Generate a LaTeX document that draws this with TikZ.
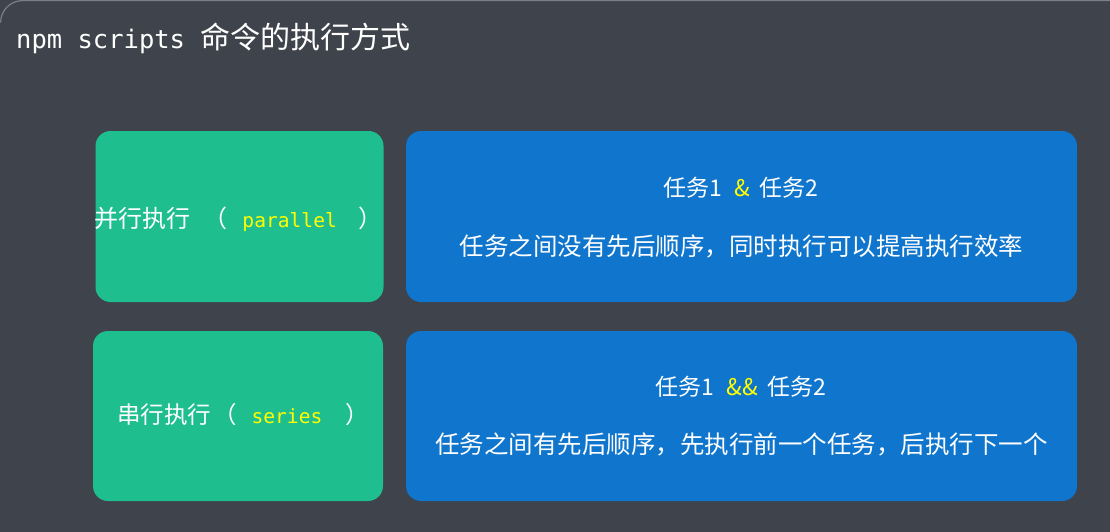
\documentclass[tikz,border=0pt]{standalone}
\usepackage{fontspec}
\usepackage{xcolor}
\usepackage{tikz}
\setmainfont{Noto Sans CJK SC}
\setmonofont{DejaVu Sans Mono}

\definecolor{bgdark}{HTML}{3F434B}
\definecolor{edgegray}{HTML}{7C7F85}
\definecolor{modegreen}{HTML}{1FBE8F}
\definecolor{taskblue}{HTML}{1076CD}
\definecolor{kwyellow}{HTML}{FFFF00}

\newcommand{\kw}[2]{{\fontsize{#1}{#1}\ttfamily\selectfont\color{kwyellow}#2}}

\begin{document}
\begin{tikzpicture}[x=1pt,y=-1pt,
  modebox/.style={fill=modegreen, rounded corners=15pt, minimum width=288pt, minimum height=171pt, inner sep=0pt},
  taskbox/.style={fill=taskblue, rounded corners=15pt, minimum width=671pt, minimum height=171pt, inner sep=0pt},
  txt/.style={text=white, inner sep=0pt}]
% Background
\useasboundingbox (0,0) rectangle (1110,532);
\fill[bgdark] (0,0) rectangle (1110,532);
\draw[edgegray, line width=1.2pt, rounded corners=22pt] (0.6,22) -- (0.6,0.6) -- (1110,0.6);

% Title
\node[txt, anchor=west] (title) at (16,38) {{\fontsize{25.5}{30}\ttfamily\selectfont npm scripts }{\fontsize{30}{34}\selectfont 命令的执行方式}};

% Boxes
\node[modebox] (parbox) at (239.5,216.5) {};
\node[modebox, minimum width=290pt, minimum height=170pt] (serbox) at (238,416) {};
\node[taskbox] (partask) at (741.5,216.5) {};
\node[taskbox, minimum height=170pt] (sertask) at (741.5,416) {};

% Modes
\node[txt] (parname) at (238.5,219) {\fontsize{24}{28}\selectfont 并行执行\hspace{8pt} （\hspace{15pt}\kw{19.6}{parallel}\hspace{22pt}）};
\node[txt] (sername) at (243,415) {\fontsize{23.5}{28}\selectfont 串行执行\hspace{2pt}（\hspace{15pt}\kw{19.6}{series}\hspace{23pt}）};

% Tasks
\node[txt] (parhead) at (741,188) {\fontsize{23}{26}\selectfont 任务1\hspace{12pt}{\color{kwyellow}\&}\hspace{10pt}任务2};
\node[txt] (partext) at (741.5,246) {\fontsize{24.5}{28}\selectfont 任务之间没有先后顺序，同时执行可以提高执行效率};
\node[txt] (serhead) at (741,387) {\fontsize{23}{26}\selectfont 任务1\hspace{12pt}{\color{kwyellow}\&\&}\hspace{10pt}任务2};
\node[txt] (sertext) at (741.5,444) {\fontsize{24.5}{28}\selectfont 任务之间有先后顺序，先执行前一个任务，后执行下一个};
\end{tikzpicture}
\end{document}
